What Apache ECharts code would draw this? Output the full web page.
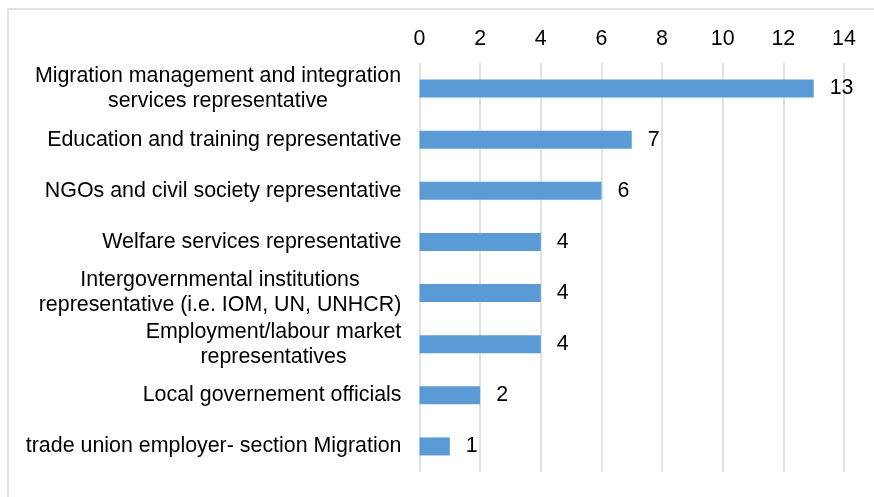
<!DOCTYPE html>
<html>
<head>
<meta charset="utf-8">
<script src="https://cdn.jsdelivr.net/npm/echarts@6/dist/echarts.min.js"></script>
<style>
  html, body { margin: 0; padding: 0; background: #ffffff; }
  #chart { width: 874px; height: 497px; }
</style>
</head>
<body>
<div id="chart"></div>
<script>
// Stakeholder groups, listed top to bottom
var categories = [
  'Migration management and integration\nservices representative',
  'Education and training representative',
  'NGOs and civil society representative',
  'Welfare services representative',
  'Intergovernmental institutions\nrepresentative (i.e. IOM, UN, UNHCR)',
  'Employment/labour market\nrepresentatives',
  'Local governement officials',
  'trade union employer- section Migration'
];
var counts = [13, 7, 6, 4, 4, 4, 2, 1];
var axisMin = 0;
var axisMax = 14;
var axisStep = 2;

var FONT_FAMILY = '"Liberation Sans", Arial, sans-serif';
var FONT_SIZE = 21.4;

// Measure text so wrapped labels can be centred as a block that is right-aligned to the axis
var measureCtx = document.createElement('canvas').getContext('2d');
measureCtx.font = FONT_SIZE + 'px ' + FONT_FAMILY;
function textWidth(s) { return Math.ceil(measureCtx.measureText(s).width); }

var richStyles = {};
var labelMap = {};
categories.forEach(function (cat, i) {
  var lines = cat.split('\n');
  if (lines.length > 1) {
    var w = Math.max.apply(null, lines.map(textWidth));
    var key = 'b' + i;
    richStyles[key] = {
      width: w, align: 'center', fontSize: FONT_SIZE,
      fontFamily: FONT_FAMILY, color: '#000000', lineHeight: 25
    };
    labelMap[cat] = lines.map(function (l) { return '{' + key + '|' + l + '}'; }).join('\n');
  } else {
    labelMap[cat] = cat;
  }
});

var chart = echarts.init(document.getElementById('chart'), null, { renderer: 'canvas' });
chart.setOption({
  backgroundColor: '#ffffff',
  animation: false,
  graphic: [{
    type: 'rect',
    shape: { x: 8, y: 9, width: 900, height: 520 },
    style: { fill: 'none', stroke: '#d9d9d9', lineWidth: 1.5 },
    silent: true
  }],
  grid: { left: 419.5, right: 30, top: 63, bottom: 25, containLabel: false },
  xAxis: {
    type: 'value',
    position: 'top',
    min: axisMin,
    max: axisMax,
    interval: axisStep,
    axisLine: { show: false },
    axisTick: { show: false },
    axisLabel: {
      margin: 13,
      fontSize: FONT_SIZE,
      fontFamily: FONT_FAMILY,
      color: '#000000'
    },
    splitLine: { show: true, lineStyle: { color: '#d9d9d9', width: 1.5 } }
  },
  yAxis: {
    type: 'category',
    inverse: true,
    data: categories,
    axisLine: { show: false },
    axisTick: { show: false },
    axisLabel: {
      margin: 18,
      align: 'right',
      fontSize: FONT_SIZE,
      fontFamily: FONT_FAMILY,
      color: '#000000',
      lineHeight: 25,
      interval: 0,
      formatter: function (v) { return labelMap[v]; },
      rich: richStyles
    }
  },
  series: [{
    type: 'bar',
    data: counts,
    barWidth: 18,
    itemStyle: { color: '#5b9bd5' },
    label: {
      show: true,
      position: 'right',
      distance: 16,
      fontSize: FONT_SIZE,
      fontFamily: FONT_FAMILY,
      color: '#000000'
    }
  }]
});
</script>
</body>
</html>
